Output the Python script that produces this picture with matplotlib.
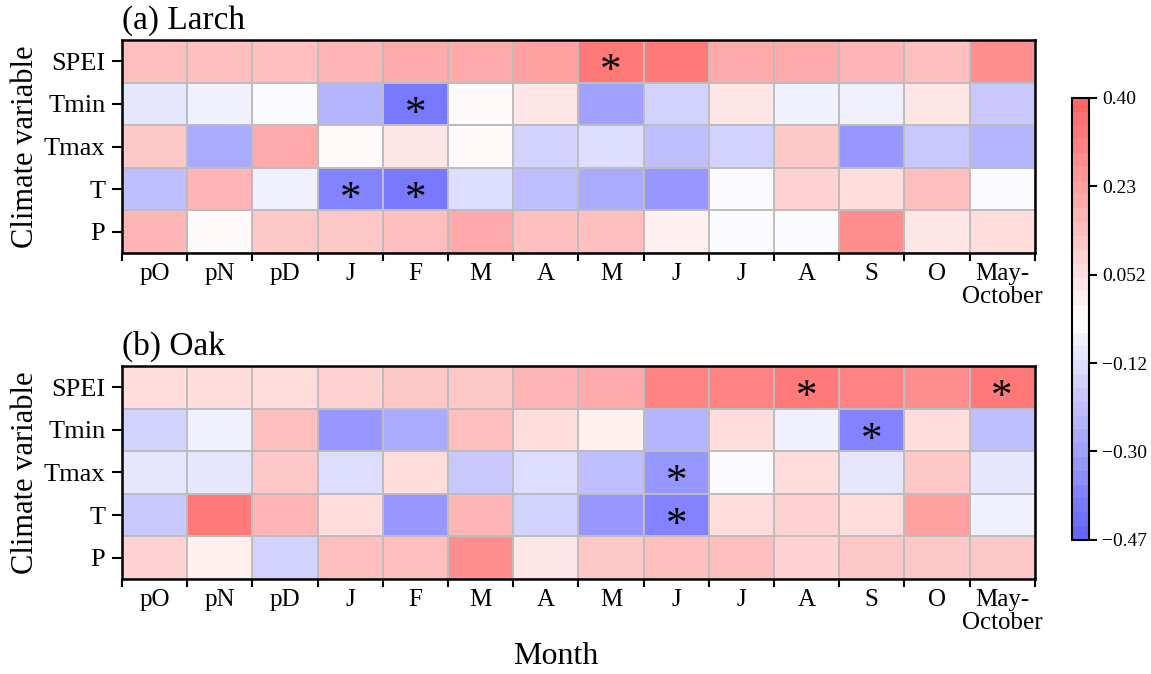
import numpy as np
import matplotlib
matplotlib.use('Agg')
import matplotlib.pyplot as plt
from matplotlib.colors import ListedColormap

plt.rcParams['font.family'] = ['Liberation Serif', 'DejaVu Serif']

months = ['pO', 'pN', 'pD', 'J', 'F', 'M', 'A', 'M', 'J', 'J', 'A', 'S', 'O', 'May-\nOctober']
variables = ['SPEI', 'Tmin', 'Tmax', 'T', 'P']

# correlation values (rows = variables, cols = months)
larch_spei = [0.13, 0.13, 0.13, 0.17, 0.20, 0.19, 0.23, 0.33, 0.34, 0.20, 0.20, 0.17, 0.13, 0.28]
larch_tmin = [-0.10, -0.07, -0.05, -0.25, -0.40, -0.02, 0.03, -0.28, -0.16, 0.04, -0.07, -0.08, 0.02, -0.19]
larch_tmax = [0.12, -0.27, 0.19, -0.01, 0.02, -0.01, -0.15, -0.12, -0.22, -0.17, 0.12, -0.32, -0.19, -0.24]
larch_t = [-0.20, 0.17, -0.08, -0.38, -0.40, -0.13, -0.20, -0.27, -0.31, -0.05, 0.10, 0.05, 0.13, -0.05]
larch_p = [0.17, -0.01, 0.12, 0.12, 0.13, 0.20, 0.15, 0.15, 0.00, -0.05, -0.05, 0.27, 0.03, 0.07]

oak_spei = [0.07, 0.07, 0.07, 0.10, 0.12, 0.12, 0.18, 0.20, 0.30, 0.30, 0.33, 0.30, 0.29, 0.34]
oak_tmin = [-0.17, -0.08, 0.14, -0.31, -0.26, 0.15, 0.05, 0.00, -0.24, 0.05, -0.08, -0.37, 0.05, -0.20]
oak_tmax = [-0.10, -0.11, 0.12, -0.13, 0.05, -0.18, -0.14, -0.20, -0.32, -0.06, 0.05, -0.09, 0.12, -0.10]
oak_t = [-0.18, 0.33, 0.18, 0.07, -0.32, 0.16, -0.16, -0.31, -0.38, 0.05, 0.08, 0.05, 0.23, -0.08]
oak_p = [0.09, 0.00, -0.17, 0.14, 0.14, 0.27, 0.03, 0.12, 0.15, 0.14, 0.08, 0.12, 0.11, 0.12]

# significant cells (row index, column index)
larch_sig = [(0, 7), (1, 4), (3, 3), (3, 4)]
oak_sig = [(0, 10), (0, 13), (1, 11), (2, 8), (3, 8)]

vmin, vmax = -0.47, 0.40
cbar_ticks = [0.40, 0.226, 0.052, -0.122, -0.296, -0.47]
cbar_labels = ['0.40', '0.23', '0.052', '\u22120.12', '\u22120.30', '\u22120.47']

# bwr faded towards white, stepped
base = plt.get_cmap('bwr')(np.linspace(0, 1, 32))[:, :3]
cmap = ListedColormap(base * 0.6 + 0.4)

fig = plt.figure(figsize=(11.51, 6.74), dpi=100)
ax1 = fig.add_axes([0.106, 0.6246, 0.793, 0.316])
ax2 = fig.add_axes([0.106, 0.141, 0.793, 0.316])
cax = fig.add_axes([0.931, 0.199, 0.0148, 0.656])

panels = [
    (ax1, [larch_spei, larch_tmin, larch_tmax, larch_t, larch_p], larch_sig, '(a) Larch'),
    (ax2, [oak_spei, oak_tmin, oak_tmax, oak_t, oak_p], oak_sig, '(b) Oak'),
]

for ax, rows, sig, title in panels:
    data = np.array(rows)
    mesh = ax.pcolormesh(data, cmap=cmap, vmin=vmin, vmax=vmax,
                         edgecolors='#bdbdbd', linewidth=1.3)
    ax.set_xlim(0, len(months))
    ax.set_ylim(len(variables), 0)
    for r, c in sig:
        ax.text(c + 0.5, r + 0.75, '*', ha='center', va='center', fontsize=31, color='black')
    ax.set_xticks(np.arange(len(months) + 1))
    ax.set_xticklabels([])
    ax.set_xticks(np.arange(len(months)) + 0.5, minor=True)
    ax.set_xticklabels(months, minor=True, fontsize=18, linespacing=1.1)
    ax.tick_params(axis='x', which='minor', length=0, pad=7)
    ax.tick_params(axis='x', which='major', length=6, width=1.5, direction='out')
    ax.set_yticks(np.arange(len(variables)) + 0.5)
    ax.set_yticklabels(variables, fontsize=19)
    ax.tick_params(axis='y', length=7, width=1.5, direction='out', pad=5)
    for s in ax.spines.values():
        s.set_linewidth(1.8)
    ax.set_ylabel('Climate variable', fontsize=22, labelpad=3)
    ax.text(0.0, 1.02, title, transform=ax.transAxes, fontsize=24, ha='left', va='bottom')

fig.text(0.483, 0.005, 'Month', fontsize=23, ha='center', va='bottom')

cb = fig.colorbar(mesh, cax=cax)
cb.set_ticks(cbar_ticks)
cb.set_ticklabels(cbar_labels)
cb.ax.tick_params(labelsize=14, length=6, width=1.5)
cb.outline.set_linewidth(1.5)

fig.savefig('out.png', dpi=100)
